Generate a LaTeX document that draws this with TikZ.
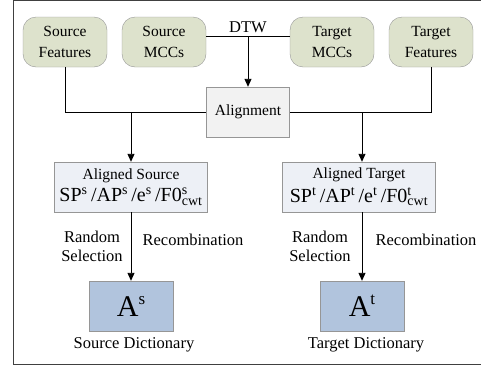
\documentclass[tikz,border=0pt]{standalone}
\usepackage{fontspec}
\setmainfont{Liberation Serif}
\usetikzlibrary{arrows.meta}

\definecolor{featfill}{RGB}{221,226,204}
\definecolor{alfill}{RGB}{242,242,242}
\definecolor{setfill}{RGB}{237,240,246}
\definecolor{dictfill}{RGB}{177,196,221}
\definecolor{edge}{RGB}{150,150,150}

\begin{document}
\begin{tikzpicture}[x=1pt,y=-1pt,
    feat/.style={draw=edge,fill=featfill,rounded corners=13pt,minimum width=84pt,minimum height=50pt,
      align=center,inner sep=0pt,font=\fontsize{15.5}{21}\selectfont},
    plainbox/.style={draw=edge,minimum height=50pt,align=center,inner sep=0pt},
    lbl/.style={align=center,inner sep=0pt,font=\fontsize{16.5}{19}\selectfont},
    arr/.style={-{Triangle[length=8pt,width=7pt]}}]
    \useasboundingbox (0,0) rectangle (481,370);
    \draw[line width=1.5pt,black!75] (13.5,0.5) rectangle (483,364.5);

    \node[feat] (SF) at (65,42) {Source\\Features};
    \node[feat] (SM) at (164,42) {Source\\MCCs};
    \node[feat] (TM) at (332,42) {Target\\MCCs};
    \node[feat] (TF) at (431,42) {Target\\Features};

    \node[plainbox,fill=alfill,minimum width=83pt,font=\fontsize{15.5}{21}\selectfont] (Al) at (248,112) {Alignment};

    \node[plainbox,fill=setfill,minimum width=153pt] (AS) at (131,187)
      {\fontsize{15.5}{18}\selectfont Aligned Source\\[4pt]
       \fontsize{20}{22}\selectfont SP\textsuperscript{s}\,/AP\textsuperscript{s}\,/e\textsuperscript{s}\,/F0\rlap{\textsuperscript{s}}\textsubscript{cwt}};
    \node[plainbox,fill=setfill,minimum width=153pt] (AT) at (359,187)
      {\fontsize{15.5}{18}\selectfont Aligned Target\\[4pt]
       \fontsize{20}{22}\selectfont SP\textsuperscript{t}\,/AP\textsuperscript{t}\,/e\textsuperscript{t}\,/F0\rlap{\textsuperscript{t}}\textsubscript{cwt}};

    \node[plainbox,fill=dictfill,minimum width=84pt,font=\fontsize{30}{32}\selectfont] (DS) at (131,306)
      {A\raisebox{12pt}{\fontsize{17}{17}\selectfont s}};
    \node[plainbox,fill=dictfill,minimum width=84pt,font=\fontsize{30}{32}\selectfont] (DT) at (362,306)
      {A\raisebox{12pt}{\fontsize{17}{17}\selectfont t}};

    \node[lbl] (DSl) at (134,345) {Source Dictionary};
    \node[lbl] (DTl) at (366,345) {Target Dictionary};
    \node[lbl] (RS1) at (92,246) {Random\\Selection};
    \node[lbl] (RC1) at (193,240) {Recombination};
    \node[lbl] (RS2) at (320,246) {Random\\Selection};
    \node[lbl] (RC2) at (426,240) {Recombination};
    \node[lbl] (DTW) at (248,27) {DTW};

    % DTW between the MCC features
    \coordinate (M) at (248,36);
    \draw[line width=0.9pt] (SM.east |- M) -- (TM.west |- M);
    \draw[arr,line width=0.9pt] (M) -- (Al.north);

    % features into alignment
    \draw[line width=0.9pt] (SF.south) |- (Al.west);
    \draw[line width=0.9pt] (TF.south) |- (Al.east);
    \coordinate (L) at (131,112);
    \coordinate (R) at (362,112);
    \draw[arr,line width=0.9pt] (L) -- (AS.north -| L);
    \draw[arr,line width=0.9pt] (R) -- (AT.north -| R);

    % dictionaries
    \draw[arr,line width=0.9pt] (AS.south) -- (DS.north);
    \draw[arr,line width=0.9pt] (AT.south -| DT) -- (DT.north);
\end{tikzpicture}
\end{document}
